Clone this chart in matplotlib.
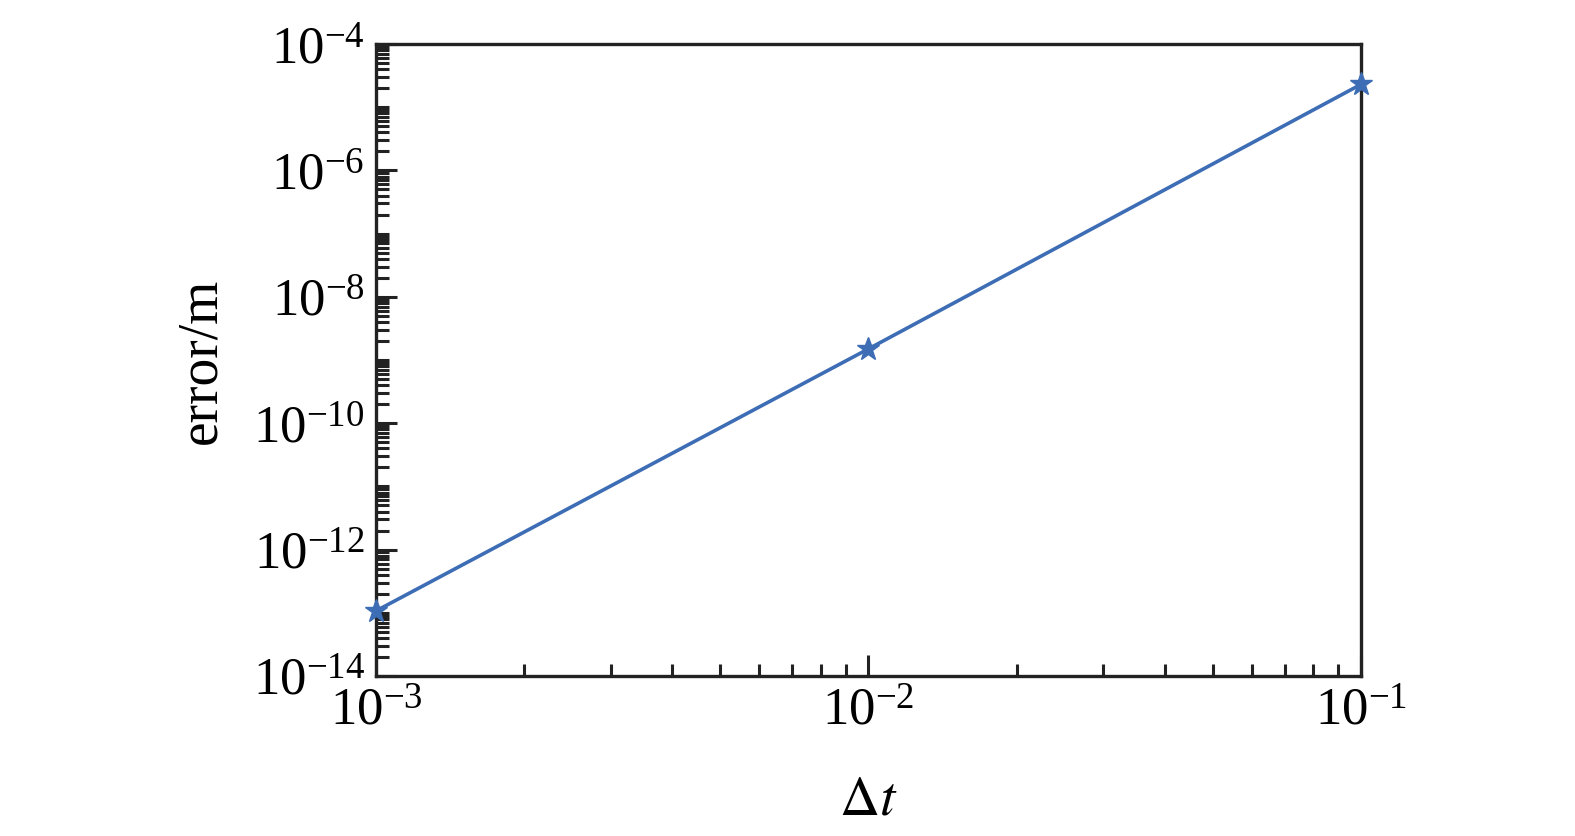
import numpy as np
import matplotlib.pyplot as plt
from matplotlib.ticker import LogLocator, LogFormatterMathtext, NullFormatter

# data
dt = [1e-3, 1e-2, 1e-1]
err = [1.07e-13, 1.5e-9, 2.3e-5]

plt.rcParams['font.family'] = ['Liberation Serif', 'DejaVu Serif']
plt.rcParams['mathtext.fontset'] = 'stix'

fig = plt.figure(figsize=(15.75, 8.37), dpi=100)
ax = fig.add_axes([0.2387, 0.1912, 0.6254, 0.7550])

ax.plot(dt, err, color='#3d6db5', lw=2.6, marker='*', ms=17, clip_on=False, zorder=5)

ax.set_xscale('log')
ax.set_yscale('log')
ax.set_xlim(1e-3, 1e-1)
ax.set_ylim(1e-14, 1e-4)

ax.xaxis.set_major_locator(LogLocator(base=10, numticks=10))
ax.xaxis.set_minor_locator(LogLocator(base=10, subs=np.arange(2, 10), numticks=20))
ax.yaxis.set_major_locator(LogLocator(base=100, numticks=10))
ax.yaxis.set_minor_locator(LogLocator(base=10, subs=np.arange(1, 10), numticks=30))
ax.xaxis.set_major_formatter(LogFormatterMathtext())
ax.yaxis.set_major_formatter(LogFormatterMathtext(base=10))
ax.xaxis.set_minor_formatter(NullFormatter())
ax.yaxis.set_minor_formatter(NullFormatter())

ax.tick_params(which='both', direction='in', top=False, right=False,
               width=2.2, color='#222222', labelsize=38, pad=8)
ax.tick_params(which='major', length=15)
ax.tick_params(which='minor', length=9)

for s in ax.spines.values():
    s.set_linewidth(2.4)
    s.set_color('#222222')

ax.set_xlabel(r'$\Delta t$', fontsize=40, labelpad=28)
ax.set_ylabel('error/m', fontsize=40, labelpad=18)

fig.savefig('out.png', dpi=100)
